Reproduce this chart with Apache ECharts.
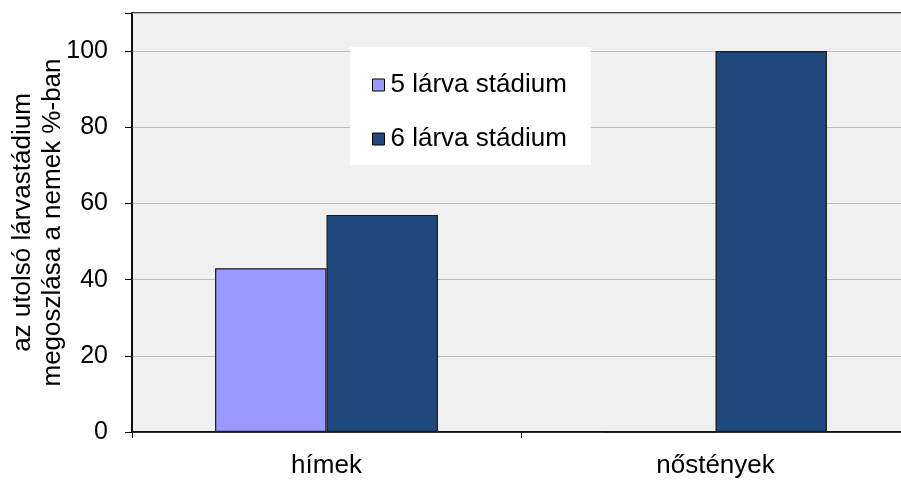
<!DOCTYPE html>
<html>
<head>
<meta charset="utf-8">
<script src="https://cdn.jsdelivr.net/npm/echarts@6/dist/echarts.min.js"></script>
<style>
  html, body { margin: 0; padding: 0; background: #ffffff; }
  #chart { width: 901px; height: 481px; }
</style>
</head>
<body>
<div id="chart"></div>
<script>
// Categories (sex) and the share of the last larval stage in each, in percent
const categories = ['hímek', 'nőstények'];
const seriesNames = ['5 lárva stádium', '6 lárva stádium'];
const stage5 = [43, 0];
const stage6 = [57, 100];
const yTicks = [0, 20, 40, 60, 80, 100];

const FONT = '"Liberation Sans", Arial, sans-serif';
const chart = echarts.init(document.getElementById('chart'), null, { renderer: 'canvas' });

chart.setOption({
  animation: false,
  backgroundColor: '#ffffff',
  textStyle: { fontFamily: FONT },
  grid: {
    left: 132, top: 13, width: 778, height: 419,
    outerBoundsMode: 'none', containLabel: false,
    show: true, backgroundColor: '#f0f0f0', borderColor: '#000000', borderWidth: 1.5
  },
  legend: {
    orient: 'vertical',
    left: 350, top: 47,
    padding: [25, 24, 13, 22],
    backgroundColor: '#ffffff',
    itemWidth: 12, itemHeight: 12, itemGap: 28,
    icon: 'rect',
    textStyle: { fontSize: 26, color: '#000000', fontFamily: FONT, padding: [0, 0, 0, 1] },
    data: seriesNames.map(n => ({ name: n, itemStyle: { borderColor: '#000000', borderWidth: 1 } }))
  },
  xAxis: {
    type: 'category',
    data: categories,
    axisLine: { lineStyle: { color: '#000000', width: 1.5 } },
    axisTick: { show: true, length: 6, lineStyle: { color: '#000000' } },
    axisLabel: { fontSize: 26, color: '#000000', margin: 21, fontFamily: FONT },
    splitLine: { show: false }
  },
  yAxis: {
    type: 'value',
    min: 0, max: 110, interval: 20,
    name: 'az utolsó lárvastádium\nmegoszlása a nemek %-ban',
    nameLocation: 'middle',
    nameGap: 64,
    nameMoveOverlap: false,
    nameTextStyle: { fontSize: 26, color: '#000000', lineHeight: 30, fontFamily: FONT },
    axisLine: { show: true, lineStyle: { color: '#000000', width: 1.5 } },
    axisTick: { show: true, length: 7, lineStyle: { color: '#000000' } },
    axisLabel: {
      fontSize: 25, color: '#000000', margin: 24, fontFamily: FONT,
      formatter: v => (yTicks.indexOf(v) >= 0 ? String(v) : '')
    },
    splitLine: { show: true, lineStyle: { color: '#bdbdbd', width: 1 } }
  },
  series: [
    {
      name: seriesNames[0], type: 'bar', data: stage5,
      barGap: '0%', barCategoryGap: '42.7%',
      itemStyle: { color: '#9999ff', borderColor: '#1a1a1a', borderWidth: 1.2 }
    },
    {
      name: seriesNames[1], type: 'bar', data: stage6,
      barGap: '0%', barCategoryGap: '42.7%',
      itemStyle: { color: '#1f497d', borderColor: '#1a1a1a', borderWidth: 1.2 }
    }
  ]
});
</script>
</body>
</html>
